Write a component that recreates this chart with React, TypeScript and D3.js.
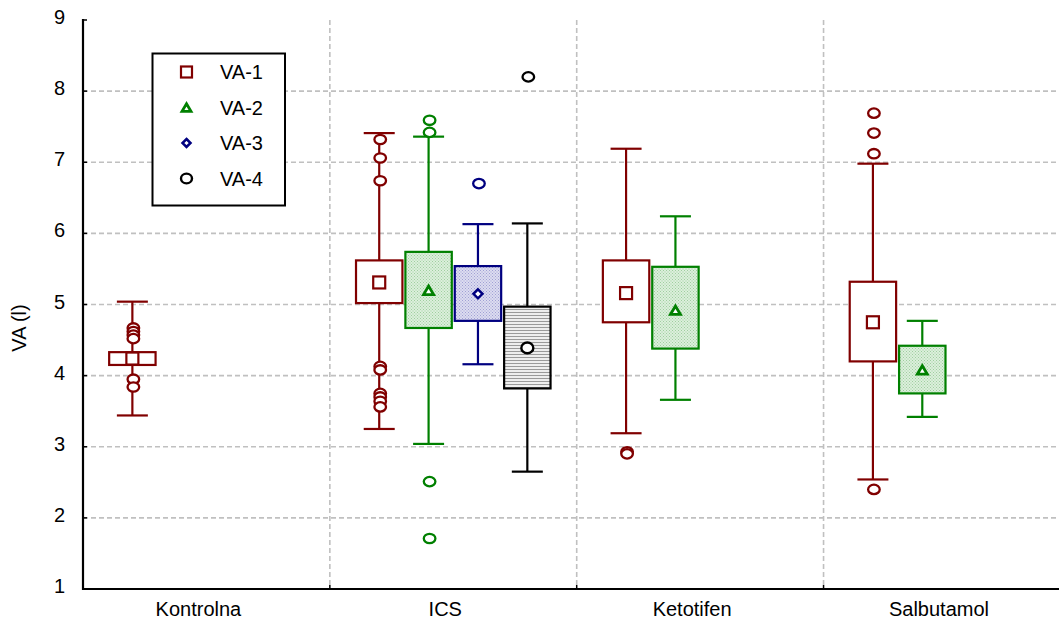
import React from "react";
import * as d3 from "d3";

const categories = ["Kontrolna", "ICS", "Ketotifen", "Salbutamol"];
const seriesNames = ["VA-1", "VA-2", "VA-3", "VA-4"];
const seriesColors = ["#800000", "#008000", "#000080", "#000000"];
const seriesFills = ["#ffffff", "url(#patGreen)", "url(#patBlue)", "url(#patLines)"];
const yTicks = [1, 2, 3, 4, 5, 6, 7, 8, 9];
const yGrid = [2, 3, 4, 5, 6, 7, 8];

const boxCategory = ["Kontrolna", "ICS", "ICS", "ICS", "ICS", "Ketotifen", "Ketotifen", "Salbutamol", "Salbutamol"];
const boxSeries = ["VA-1", "VA-1", "VA-2", "VA-3", "VA-4", "VA-1", "VA-2", "VA-1", "VA-2"];
const boxMean = [4.24, 5.31, 5.2, 5.15, 4.39, 5.16, 4.92, 4.75, 4.08];
const boxQ1 = [4.15, 5.02, 4.67, 4.77, 3.82, 4.75, 4.38, 4.2, 3.75];
const boxQ3 = [4.33, 5.62, 5.74, 5.54, 4.97, 5.62, 5.53, 5.32, 4.42];
const whiskerLow = [3.44, 3.25, 3.04, 4.16, 2.65, 3.19, 3.66, 2.54, 3.42];
const whiskerHigh = [5.04, 7.41, 7.36, 6.13, 6.14, 7.19, 6.24, 6.98, 4.77];
const outliers = [
  [4.67, 4.62, 4.57, 4.52, 3.95, 3.84],
  [7.32, 7.06, 6.74, 4.13, 4.08, 3.75, 3.7, 3.64, 3.56],
  [7.59, 7.42, 2.51, 1.71],
  [6.7],
  [8.2],
  [2.93, 2.9],
  [],
  [7.69, 7.41, 7.12, 2.4],
  [],
];

const W = 1059;
const H = 619;
const left = 83;
const top = 20;
const bottom = 589;
const right = 83 + 4 * 246.85;
const FONT = "Arial, 'Liberation Sans', sans-serif";

function Marker({ kind, cx, cy, color, s }: { kind: number; cx: number; cy: number; color: string; s: number }) {
  if (kind === 0) {
    return <rect x={cx - s / 2} y={cy - s / 2} width={s} height={s} fill="#fff" stroke={color} strokeWidth={2.2} />;
  }
  if (kind === 1) {
    const h = s * 0.85;
    const p = `M${cx},${cy - h / 2} L${cx + s / 2},${cy + h / 2} L${cx - s / 2},${cy + h / 2} Z`;
    return <path d={p} fill="#fff" stroke={color} strokeWidth={2.8} strokeLinejoin="miter" />;
  }
  if (kind === 2) {
    const r = s / 2;
    const p = `M${cx},${cy - r} L${cx + r},${cy} L${cx},${cy + r} L${cx - r},${cy} Z`;
    return <path d={p} fill="#fff" stroke={color} strokeWidth={2.5} />;
  }
  return <ellipse cx={cx} cy={cy} rx={s / 2} ry={s / 2 - 0.6} fill="#fff" stroke={color} strokeWidth={2.4} />;
}

export default function App() {
  const y = d3.scaleLinear().domain([1, 9]).range([bottom, top]);
  const x = d3.scaleBand<string>().domain(categories).range([left, right]).padding(0);
  const sub = d3
    .scaleBand<string>()
    .domain(seriesNames)
    .range([0, x.bandwidth()])
    .paddingInner(0)
    .paddingOuter(0.5);
  const boxW = sub.bandwidth() * 0.94;
  const capW = 31;

  const boundaries = categories.slice(1).map((c) => x(c) as number);

  return (
    <svg
      width={W}
      height={H}
      style={{ position: "absolute", left: 0, top: 0, background: "#fff" }}
      fontFamily={FONT}
    >
      <defs>
        <pattern id="patGreen" patternUnits="userSpaceOnUse" width={3} height={3}>
          <rect width={3} height={3} fill="#dcefdc" />
          <rect x={0} y={0} width={1} height={1} fill="#9fcf9f" />
          <rect x={1.5} y={1.5} width={1} height={1} fill="#9fcf9f" />
        </pattern>
        <pattern id="patBlue" patternUnits="userSpaceOnUse" width={3} height={3}>
          <rect width={3} height={3} fill="#dcdcf0" />
          <rect x={0} y={0} width={1} height={1} fill="#a0a0d4" />
          <rect x={1.5} y={1.5} width={1} height={1} fill="#a0a0d4" />
        </pattern>
        <pattern id="patLines" patternUnits="userSpaceOnUse" width={4} height={3}>
          <rect width={4} height={3} fill="#eeeeee" />
          <rect x={0} y={0} width={4} height={1} fill="#9a9a9a" />
        </pattern>
      </defs>

      {/* grid */}
      {yGrid.map((t) => (
        <line
          key={"gy" + t}
          x1={left}
          x2={W}
          y1={y(t)}
          y2={y(t)}
          stroke="#c0c0c0"
          strokeWidth={1.6}
          strokeDasharray="5,3"
        />
      ))}
      {boundaries.map((bx, i) => (
        <line
          key={"gx" + i}
          x1={bx}
          x2={bx}
          y1={top}
          y2={bottom}
          stroke="#c0c0c0"
          strokeWidth={1.6}
          strokeDasharray="5,3"
        />
      ))}

      {/* axes */}
      <line x1={left} x2={left} y1={top - 1} y2={bottom + 1} stroke="#000" strokeWidth={2.2} />
      <line x1={left - 1} x2={W} y1={bottom} y2={bottom} stroke="#000" strokeWidth={2.2} />
      {yTicks.map((t) => (
        <g key={"yt" + t}>
          <line x1={left} x2={left + 4} y1={y(t)} y2={y(t)} stroke="#000" strokeWidth={1.5} />
          <text x={65} y={y(t) + 4} textAnchor="end" fontSize={20} fill="#000">
            {t}
          </text>
        </g>
      ))}
      {boundaries.map((bx, i) => (
        <line key={"xt" + i} x1={bx} x2={bx} y1={bottom} y2={bottom - 4} stroke="#000" strokeWidth={1.5} />
      ))}
      {categories.map((c) => (
        <text
          key={"xl" + c}
          x={(x(c) as number) + x.bandwidth() / 2 - 8}
          y={616}
          textAnchor="middle"
          fontSize={20}
          fill="#000"
        >
          {c}
        </text>
      ))}
      <text transform={`translate(26,328) rotate(-90)`} textAnchor="middle" fontSize={20} fill="#000">
        VA (l)
      </text>

      {/* boxes */}
      {boxCategory.map((cat, i) => {
        const si = seriesNames.indexOf(boxSeries[i]);
        const color = seriesColors[si];
        const cx = (x(cat) as number) + (sub(boxSeries[i]) as number) + sub.bandwidth() / 2;
        const yq1 = y(boxQ1[i]);
        const yq3 = y(boxQ3[i]);
        return (
          <g key={"box" + i}>
            <line x1={cx} x2={cx} y1={y(whiskerHigh[i])} y2={yq3} stroke={color} strokeWidth={2.2} />
            <line x1={cx} x2={cx} y1={yq1} y2={y(whiskerLow[i])} stroke={color} strokeWidth={2.2} />
            <line
              x1={cx - capW / 2}
              x2={cx + capW / 2}
              y1={y(whiskerHigh[i])}
              y2={y(whiskerHigh[i])}
              stroke={color}
              strokeWidth={2.2}
            />
            <line
              x1={cx - capW / 2}
              x2={cx + capW / 2}
              y1={y(whiskerLow[i])}
              y2={y(whiskerLow[i])}
              stroke={color}
              strokeWidth={2.2}
            />
            <rect
              x={cx - boxW / 2}
              y={yq3}
              width={boxW}
              height={yq1 - yq3}
              fill={seriesFills[si]}
              stroke={color}
              strokeWidth={2.2}
            />
            <Marker kind={si} cx={cx} cy={y(boxMean[i])} color={color} s={si === 1 ? 10 : si === 2 ? 9 : 12} />
            {outliers[i].map((v, j) => (
              <ellipse
                key={"o" + j}
                cx={cx + 1}
                cy={y(v)}
                rx={5.8}
                ry={4.7}
                fill="#fff"
                stroke={color}
                strokeWidth={2.3}
              />
            ))}
          </g>
        );
      })}

      {/* legend */}
      <rect x={152.5} y={53.5} width={132.5} height={152} fill="#fff" stroke="#000" strokeWidth={2} />
      {seriesNames.map((s, i) => {
        const ly = 72 + i * 35.5;
        return (
          <g key={"lg" + s}>
            <Marker kind={i} cx={186.5} cy={ly} color={seriesColors[i]} s={i === 0 ? 11 : i === 1 ? 9 : i === 2 ? 8 : 11} />
            <text x={220} y={ly + 7} fontSize={20} fill="#000">
              {s}
            </text>
          </g>
        );
      })}
    </svg>
  );
}
